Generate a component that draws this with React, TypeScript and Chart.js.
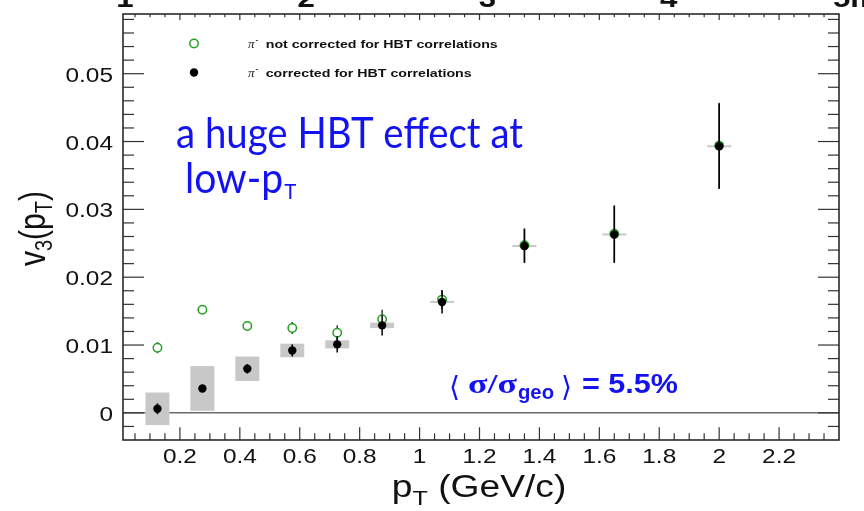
import React, { useEffect, useRef } from "react";
import { Chart, registerables } from "chart.js";

Chart.register(...registerables);

// ---------------- data ----------------
const ptCenters = [0.125, 0.275, 0.425, 0.575, 0.725, 0.875, 1.075, 1.35, 1.65, 2.0];
const v3NotCorrected = [0.0096, 0.0152, 0.0128, 0.0125, 0.0118, 0.0138, 0.0167, 0.0247, 0.0264, 0.0394];
const v3NotCorrectedStat = [0.0008, 0.0005, 0.0005, 0.0009, 0.0011, 0.0014, 0.0014, 0.0025, 0.0042, 0.0063];
const v3Corrected = [0.0006, 0.0036, 0.0065, 0.0092, 0.0101, 0.0129, 0.01635, 0.0246, 0.0263, 0.0393];
const v3CorrectedStat = [0.0008, 0.0005, 0.0007, 0.0009, 0.0012, 0.0015, 0.0017, 0.0025, 0.0042, 0.0063];
const v3CorrectedSys = [0.0024, 0.0033, 0.0018, 0.001, 0.0006, 0.0004, 0.00015, 0.0001, 0.0001, 0.0001];
const sysBoxHalfWidth = 0.04;

const xTickValues = [0.2, 0.4, 0.6, 0.8, 1.0, 1.2, 1.4, 1.6, 1.8, 2.0, 2.2];
const xTickLabels = ["0.2", "0.4", "0.6", "0.8", "1", "1.2", "1.4", "1.6", "1.8", "2", "2.2"];
const yTickValues = [0, 0.01, 0.02, 0.03, 0.04, 0.05];
const yTickLabels = ["0", "0.01", "0.02", "0.03", "0.04", "0.05"];
const topCutLabels = ["1", "2", "3", "4"];

const legendLabels = ["not corrected for HBT correlations", "corrected for HBT correlations"];

const X_MIN = 0.01;
const X_MAX = 2.4;
const Y_MIN = -0.004;
const Y_MAX = 0.0588;

const SANS = "'Liberation Sans', Arial, sans-serif";
const SERIF = "'Liberation Serif', 'Times New Roman', serif";
const BLUE = "#1212f2";

function drawText(
  ctx: CanvasRenderingContext2D,
  s: string,
  x: number,
  y: number,
  font: string,
  color: string,
  align: "left" | "center" | "right" = "left",
  sx = 1,
  width?: number
) {
  ctx.save();
  ctx.font = font;
  ctx.fillStyle = color;
  ctx.textBaseline = "alphabetic";
  ctx.textAlign = "left";
  const m = ctx.measureText(s).width;
  const k = width ? width / m : sx;
  const w = m * k;
  const left = align === "center" ? x - w / 2 : align === "right" ? x - w : x;
  ctx.translate(left, y);
  ctx.scale(k, 1);
  ctx.fillText(s, 0, 0);
  ctx.restore();
  return w;
}

function measure(ctx: CanvasRenderingContext2D, s: string, font: string) {
  ctx.save();
  ctx.font = font;
  const w = ctx.measureText(s).width;
  ctx.restore();
  return w;
}

function seg(ctx: CanvasRenderingContext2D, x1: number, y1: number, x2: number, y2: number) {
  ctx.beginPath();
  ctx.moveTo(x1, y1);
  ctx.lineTo(x2, y2);
  ctx.stroke();
}

const rootPlugin = {
  id: "rootStyle",
  beforeDatasetsDraw(chart: any) {
    const { ctx, chartArea: a, scales } = chart;
    const x = scales.x;
    const y = scales.y;
    ctx.save();
    // zero line
    ctx.strokeStyle = "#6a6a6a";
    ctx.lineWidth = 1.5;
    const y0 = y.getPixelForValue(0);
    seg(ctx, a.left, y0, a.right, y0);
    // systematic boxes
    ctx.fillStyle = "#c8c8c8";
    ptCenters.forEach((xc, i) => {
      const x1 = x.getPixelForValue(xc - sysBoxHalfWidth);
      const x2 = x.getPixelForValue(xc + sysBoxHalfWidth);
      let yt = y.getPixelForValue(v3Corrected[i] + v3CorrectedSys[i]);
      let yb = y.getPixelForValue(v3Corrected[i] - v3CorrectedSys[i]);
      if (yb - yt < 2) {
        const mid = (yt + yb) / 2;
        yt = mid - 1;
        yb = mid + 1;
      }
      ctx.fillRect(x1, yt, x2 - x1, yb - yt);
    });
    ctx.restore();
  },
  beforeDatasetDraw(chart: any, args: any) {
    const { ctx, scales } = chart;
    const x = scales.x;
    const y = scales.y;
    const vals = args.index === 0 ? v3Corrected : v3NotCorrected;
    const errs = args.index === 0 ? v3CorrectedStat : v3NotCorrectedStat;
    ctx.save();
    ctx.strokeStyle = args.index === 0 ? "#000" : "#3a3a3a";
    ctx.lineWidth = 1.5;
    ptCenters.forEach((xc, i) => {
      const px = x.getPixelForValue(xc);
      seg(ctx, px, y.getPixelForValue(vals[i] + errs[i]), px, y.getPixelForValue(vals[i] - errs[i]));
    });
    ctx.restore();
  },
  afterDraw(chart: any) {
    const { ctx, chartArea: a, scales } = chart;
    const x = scales.x;
    const y = scales.y;
    ctx.save();
    // ticks
    ctx.strokeStyle = "#333";
    ctx.lineWidth = 1.2;
    const isMajorX = (v: number) => xTickValues.some((t) => Math.abs(t - v) < 1e-6);
    for (let k = 1; k * 0.05 < X_MAX; k++) {
      const v = k * 0.05;
      if (v <= X_MIN) continue;
      const px = x.getPixelForValue(v);
      const major = isMajorX(v);
      seg(ctx, px, a.bottom, px, a.bottom - (major ? 12.7 : 6.7));
      seg(ctx, px, a.top, px, a.top + (major ? 6 : 3.3));
    }
    const isMajorY = (v: number) => yTickValues.some((t) => Math.abs(t - v) < 1e-7);
    for (let k = -1; k * 0.002 < Y_MAX + 1e-9; k++) {
      const v = k * 0.002;
      const py = y.getPixelForValue(v);
      const major = isMajorY(v);
      seg(ctx, a.left, py, a.left + (major ? 21 : 11), py);
      seg(ctx, a.right, py, a.right - (major ? 21 : 11), py);
    }
    // frame
    ctx.strokeStyle = "#2a2a2a";
    ctx.lineWidth = 1.6;
    ctx.strokeRect(a.left, a.top, a.right - a.left, a.bottom - a.top);

    // tick labels
    const tickFont = `20px ${SANS}`;
    xTickValues.forEach((v, i) => {
      drawText(ctx, xTickLabels[i], x.getPixelForValue(v), a.bottom + 23, tickFont, "#111", "center", 1.22);
    });
    yTickValues.forEach((v, i) => {
      drawText(ctx, yTickLabels[i], a.left - 10, y.getPixelForValue(v) + 8, tickFont, "#111", "right", 1.22);
    });

    // cut-off labels of the panel above
    const topFont = `bold 26px ${SANS}`;
    topCutLabels.forEach((s, i) => {
      drawText(ctx, s, a.left + 2 + i * 181.2, 7, topFont, "#111", "center", 1.2);
    });
    drawText(ctx, "5m", a.right - 6, 7, topFont, "#111", "left", 1.2);

    // x title
    {
      const big = `31px ${SANS}`;
      const small = `21px ${SANS}`;
      const sx = 1.2;
      const w1 = measure(ctx, "p", big) * sx;
      const w2 = measure(ctx, "T", small) * sx;
      const w3 = measure(ctx, " (GeV/c)", big) * sx;
      const total = w1 + w2 + w3;
      let cx = 479 - total / 2;
      const base = 497;
      drawText(ctx, "p", cx, base, big, "#111", "left", sx);
      cx += w1;
      drawText(ctx, "T", cx, base + 8, small, "#111", "left", sx);
      cx += w2;
      drawText(ctx, " (GeV/c)", cx, base, big, "#111", "left", sx);
    }

    // y title
    {
      const big = `30px ${SANS}`;
      const small = `20px ${SANS}`;
      const parts: [string, string, number][] = [
        ["v", big, 0],
        ["3", small, 6],
        ["(p", big, 0],
        ["T", small, 6],
        [")", big, 0],
      ];
      const total = parts.reduce((s, p) => s + measure(ctx, p[0], p[1]), 0);
      ctx.save();
      ctx.translate(45, 228.5);
      ctx.rotate(-Math.PI / 2);
      ctx.scale(1, 1.2);
      let cx = -total / 2;
      parts.forEach(([s, f, dy]) => {
        ctx.font = f;
        ctx.fillStyle = "#111";
        ctx.textBaseline = "alphabetic";
        ctx.textAlign = "left";
        ctx.fillText(s, cx, dy);
        cx += ctx.measureText(s).width;
      });
      ctx.restore();
    }

    // legend
    {
      const lx = 194;
      const rows = [43.5, 72.5];
      ctx.lineWidth = 1.5;
      ctx.strokeStyle = "#22a022";
      ctx.fillStyle = "#fff";
      ctx.beginPath();
      ctx.arc(lx, rows[0], 4.2, 0, Math.PI * 2);
      ctx.fill();
      ctx.stroke();
      ctx.fillStyle = "#000";
      ctx.beginPath();
      ctx.arc(lx, rows[1], 4.2, 0, Math.PI * 2);
      ctx.fill();
      const lf = `bold 11.5px ${SANS}`;
      const widths = [232, 206];
      rows.forEach((ry, i) => {
        drawText(ctx, "\u03c0", 248, ry + 4, `italic 12px ${SERIF}`, "#222", "left", 1.1);
        drawText(ctx, "-", 255.5, ry - 1.5, `bold 8px ${SANS}`, "#222", "left", 1);
        drawText(ctx, legendLabels[i], 265.7, ry + 4.2, lf, "#111", "left", 1, widths[i]);
      });
    }

    // blue annotation
    drawText(ctx, "a huge HBT effect at", 176, 148, `42px Lato, ${SANS}`, BLUE, "left", 1, 347);
    {
      const f = `42px Lato, ${SANS}`;
      const w = drawText(ctx, "low-p", 185, 193, f, BLUE, "left", 0.93);
      drawText(ctx, "T", 185 + w + 1, 199, `22px Lato, ${SANS}`, BLUE, "left", 0.93);
    }

    // <sigma/sigma_geo> = 5.5%
    {
      drawText(ctx, "\u27e8", 449, 396, `28px 'DejaVu Sans', ${SANS}`, BLUE, "left", 1, 11);
      drawText(ctx, "\u03c3/\u03c3", 468, 393, `bold 28px ${SERIF}`, BLUE, "left", 1, 49);
      drawText(ctx, "geo", 518, 398.5, `bold 20px ${SANS}`, BLUE, "left", 1, 36);
      drawText(ctx, "\u27e9", 561, 396, `28px 'DejaVu Sans', ${SANS}`, BLUE, "left", 1, 11);
      drawText(ctx, "= 5.5%", 582, 393.3, `bold 28px ${SANS}`, BLUE, "left", 1, 96);
    }
    ctx.restore();
  },
};

export default function App() {
  const ref = useRef<HTMLCanvasElement | null>(null);
  useEffect(() => {
    if (!ref.current) return;
    const chart = new Chart(ref.current, {
      type: "scatter",
      data: {
        datasets: [
          {
            label: "corrected for HBT correlations",
            data: ptCenters.map((x, i) => ({ x, y: v3Corrected[i] })),
            pointRadius: 4.2,
            pointHoverRadius: 4.2,
            backgroundColor: "#000",
            borderColor: "#000",
            borderWidth: 0,
            showLine: false,
          },
          {
            label: "not corrected for HBT correlations",
            data: ptCenters.map((x, i) => ({ x, y: v3NotCorrected[i] })),
            pointRadius: 4.2,
            pointHoverRadius: 4.2,
            backgroundColor: "#fff",
            borderColor: "#22a022",
            borderWidth: 1.5,
            showLine: false,
          },
        ],
      },
      options: {
        animation: false,
        responsive: true,
        maintainAspectRatio: false,
        events: [],
        layout: { padding: { left: 123, top: 14, right: 25, bottom: 71 } },
        scales: {
          x: { type: "linear", min: X_MIN, max: X_MAX, display: false },
          y: { type: "linear", min: Y_MIN, max: Y_MAX, display: false },
        },
        plugins: { legend: { display: false }, tooltip: { enabled: false } },
      },
      plugins: [rootPlugin],
    });
    return () => chart.destroy();
  }, []);
  return (
    <div style={{ position: "fixed", left: 0, top: 0, width: 864, height: 511, background: "#fff" }}>
      <canvas ref={ref} />
    </div>
  );
}
